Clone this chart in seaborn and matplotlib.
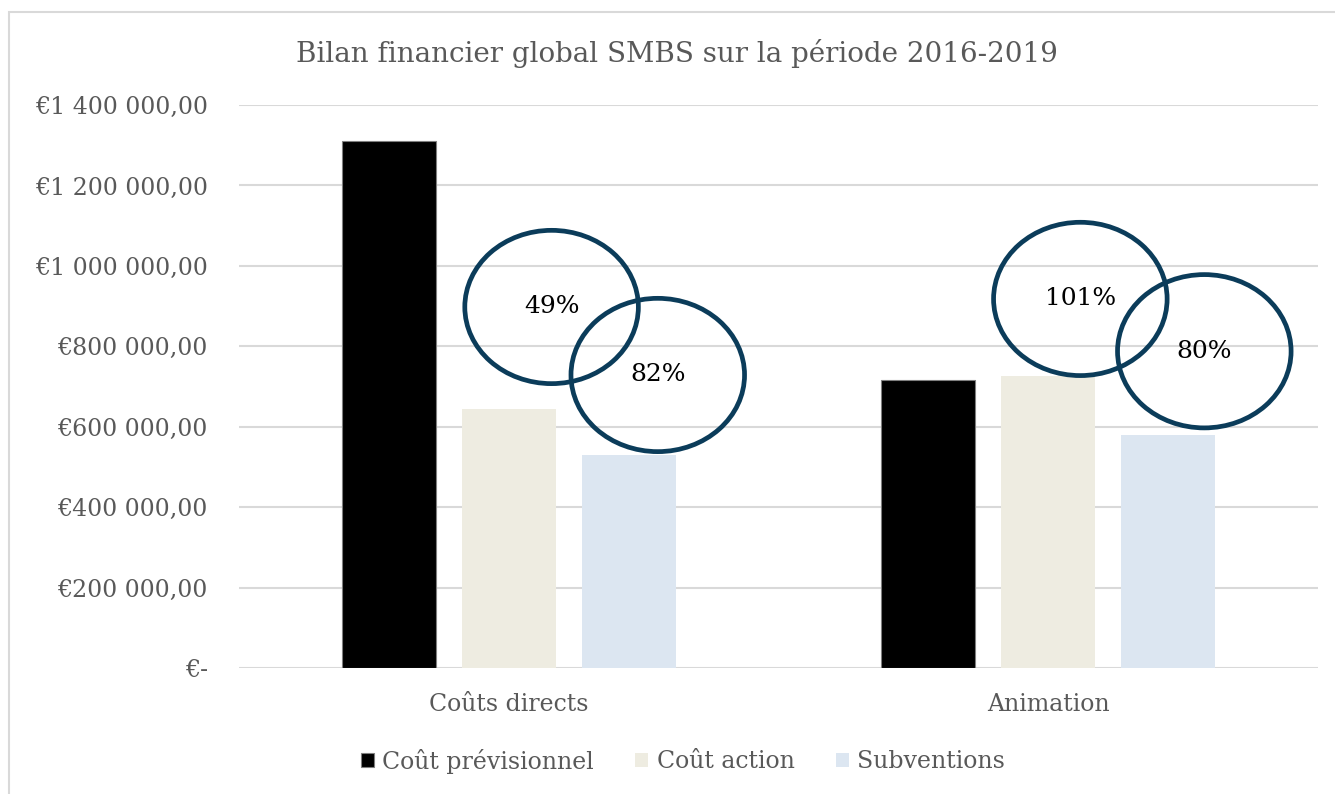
import matplotlib
matplotlib.use("Agg")
import matplotlib.pyplot as plt
from matplotlib.patches import Ellipse, Rectangle
import seaborn as sns
import pandas as pd

# Data
categories = ["Coûts directs", "Animation"]
series = ["Coût prévisionnel", "Coût action", "Subventions"]
cout_previsionnel = [1310000, 717000]
cout_action = [645000, 726000]
subventions = [530000, 580000]
y_ticks = [0, 200000, 400000, 600000, 800000, 1000000, 1200000, 1400000]

colors = ["#000000", "#eeece1", "#dce6f1"]
grey_text = "#595959"
grid_col = "#d9d9d9"
ring_col = "#0b3c5a"

df = pd.DataFrame({
    "categorie": categories * 3,
    "serie": [s for s in series for _ in categories],
    "montant": cout_previsionnel + cout_action + subventions,
})

sns.set_theme(style="white")
plt.rcParams["font.family"] = ["DejaVu Serif"]

fig = plt.figure(figsize=(13.35, 7.94), dpi=100)
ax = fig.add_axes([239.5 / 1335, 1 - 668.3 / 794, (1317.5 - 239.5) / 1335, (668.3 - 105) / 794])

sns.barplot(data=df, x="categorie", y="montant", hue="serie", order=categories,
            hue_order=series, palette=colors, width=0.668, gap=0.217,
            saturation=1, ax=ax, legend=True)

for bar in ax.patches:
    if bar.get_facecolor()[:3] == (0.0, 0.0, 0.0):
        bar.set_edgecolor("#7f7f7f")
        bar.set_linewidth(0.8)
    else:
        bar.set_linewidth(0)

ax.set_xlim(-0.5, 1.5)
ax.set_ylim(0, 1400000)


def euro(v):
    if v == 0:
        return "€-"
    s = f"{v:,.2f}".replace(",", " ").replace(".", ",")
    return "€" + s


ax.set_yticks(y_ticks)
ax.set_yticklabels([euro(v) for v in y_ticks])
ax.set_xticks(range(len(categories)))
ax.set_xticklabels(categories)
ax.tick_params(axis="y", length=0, pad=23, labelsize=17, labelcolor=grey_text,
               labelfontfamily="DejaVu Serif")
ax.tick_params(axis="x", length=0, pad=18, labelsize=17, labelcolor=grey_text,
               labelfontfamily="DejaVu Serif")
ax.set_xlabel("")
ax.set_ylabel("")
ax.yaxis.grid(True, color=grid_col, linewidth=1.5)
ax.set_axisbelow(True)
for side in ["top", "right", "left", "bottom"]:
    ax.spines[side].set_visible(False)

fig.text(677 / 1335, 1 - 53 / 794, "Bilan financier global SMBS sur la période 2016-2019",
         ha="center", va="center", fontsize=20, color=grey_text, family="DejaVu Serif")

# Ratio rings: action / forecast, subsidies / action
ratios_1 = [a / p for a, p in zip(cout_action, cout_previsionnel)]
ratios_2 = [s / a for s, a in zip(subventions, cout_action)]
ring_centres = [
    [(0.079, 898000), (0.276, 729000)],
    [(1.060, 918000), (1.290, 788000)],
]
ring_w, ring_h = 0.322, 381000
for i in range(len(categories)):
    for (cx, cy), r in zip(ring_centres[i], (ratios_1[i], ratios_2[i])):
        ax.add_patch(Ellipse((cx, cy), ring_w, ring_h, fill=False,
                             edgecolor=ring_col, linewidth=3.4, zorder=5))
        ax.text(cx, cy, f"{round(r * 100)}%", ha="center", va="center",
                fontsize=18, color="black", zorder=6, family="DejaVu Serif")

# Legend below the plot
handles, labels = ax.get_legend_handles_labels()
ax.legend_.remove()
leg = fig.legend(handles, labels, loc="center", bbox_to_anchor=(683 / 1335, 1 - 761 / 794),
                 ncol=3, frameon=False, fontsize=17, labelcolor=grey_text,
                 handlelength=0.55, handleheight=0.55, handletextpad=0.34,
                 columnspacing=1.78)
for t in leg.get_texts():
    t.set_fontfamily("DejaVu Serif")

# Chart-area frame
fig.patches.append(Rectangle((9 / 1335, -0.1), 1.2, 1 - 12 / 794 + 0.1,
                             transform=fig.transFigure, fill=False,
                             edgecolor=grid_col, linewidth=1.5))

fig.savefig("out.png", dpi=100)
